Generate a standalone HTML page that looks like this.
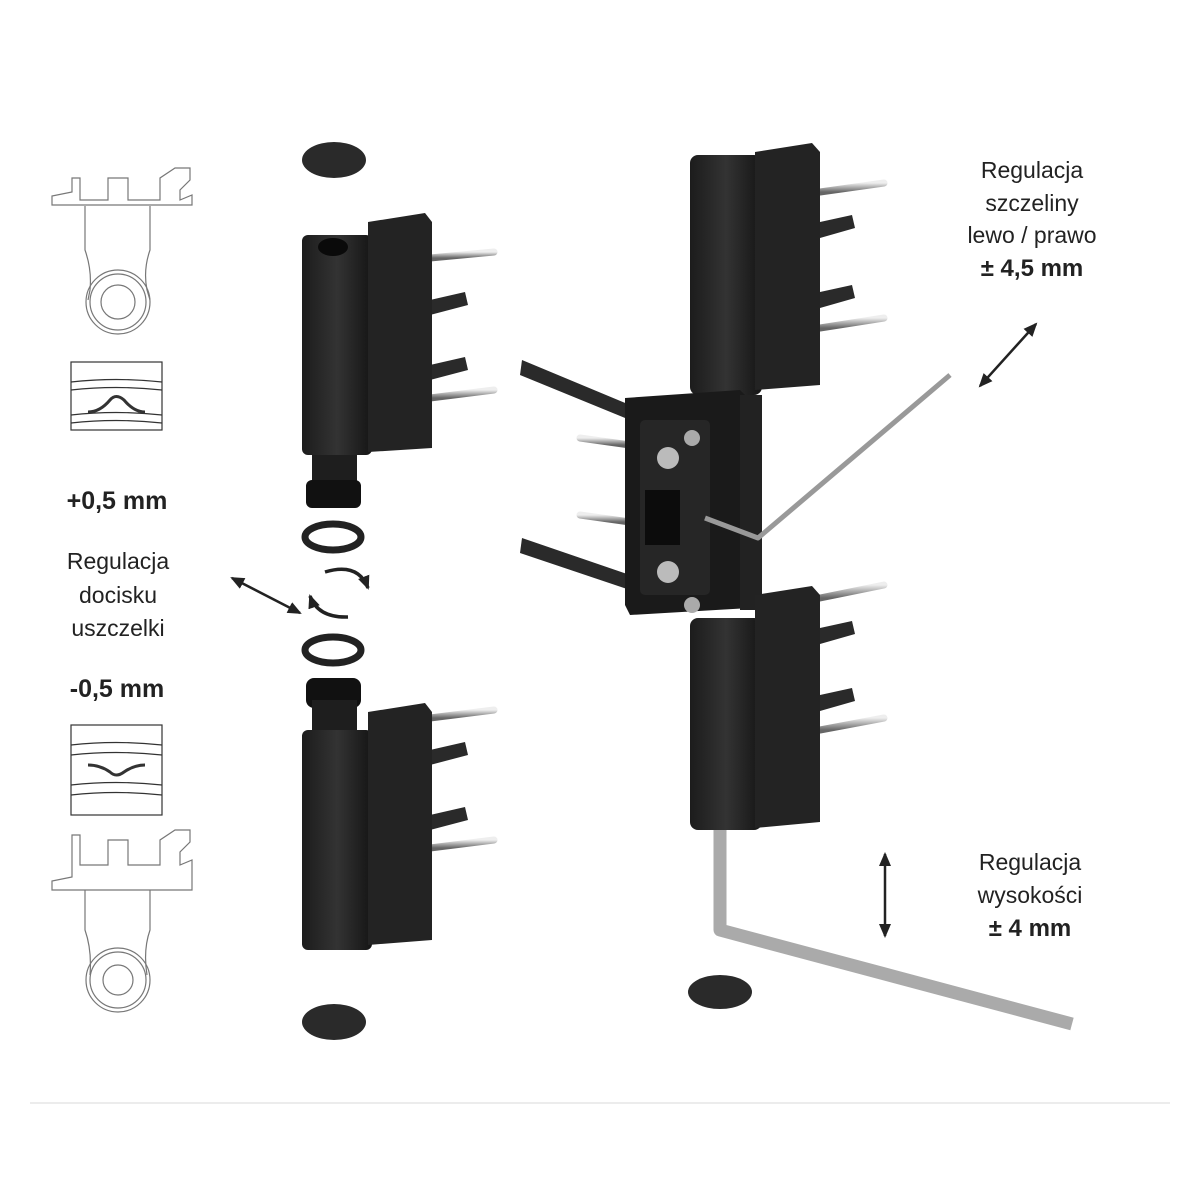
<!DOCTYPE html>
<html><head><meta charset="utf-8"><style>
html,body{margin:0;padding:0;background:#fff}
svg{display:block}
text{font-family:"Liberation Sans",sans-serif;fill:#222}
</style></head><body>
<svg width="1200" height="1200" viewBox="0 0 1200 1200" xmlns="http://www.w3.org/2000/svg">
<defs>
<linearGradient id="pin" x1="0" y1="0" x2="0" y2="1"><stop offset="0" stop-color="#eee"/><stop offset="0.5" stop-color="#aaa"/><stop offset="1" stop-color="#666"/></linearGradient>
<linearGradient id="blk" x1="0" y1="0" x2="1" y2="0"><stop offset="0" stop-color="#1c1c1c"/><stop offset="0.5" stop-color="#333"/><stop offset="1" stop-color="#151515"/></linearGradient>
<marker id="ah" markerUnits="userSpaceOnUse" markerWidth="14" markerHeight="12" refX="12" refY="6" orient="auto-start-reverse"><path d="M0,0 L14,6 L0,12 z" fill="#222"/></marker>
</defs>

<g fill="none" stroke="#777" stroke-width="1.2">
<path d="M52,205 L52,196 L72,192 L72,178 L80,178 L80,200 L108,200 L108,178 L128,178 L128,200 L160,200 L160,178 L175,168 L190,168 L190,180 L180,190 L180,200 L192,195 L192,205 Z"/>
<path d="M85,206 L85,250 Q92,270 90,290 L88,300 M150,206 L150,250 Q143,270 147,290 L150,300"/>
<circle cx="118" cy="302" r="32"/><circle cx="118" cy="302" r="28"/><circle cx="118" cy="302" r="17"/>
<path d="M52,910 L52,901 L72,897 L72,855 L80,855 L80,885 L108,885 L108,860 L128,860 L128,885 L160,885 L160,860 L175,850 L190,850 L190,862 L180,872 L180,885 L192,880 L192,910 Z" transform="translate(0,-20)"/>
<path d="M85,890 L85,930 Q92,950 90,975 M150,890 L150,930 Q143,950 147,975"/>
<circle cx="118" cy="980" r="32"/><circle cx="118" cy="980" r="28"/><circle cx="118" cy="980" r="15"/>
</g>
<g fill="none" stroke="#333" stroke-width="1.2">
<rect x="71" y="362" width="91" height="68"/>
<path d="M71,382 Q116,377 162,382 M71,390 Q116,385 162,390 M71,415 Q116,410 162,415 M71,423 Q116,418 162,423"/>
<path d="M88,412 Q100,412 110,400 Q116,393 124,400 Q134,412 145,412" stroke-width="3"/>
<rect x="71" y="725" width="91" height="90"/>
<path d="M71,745 Q116,740 162,745 M71,755 Q116,750 162,755 M71,785 Q116,780 162,785 M71,795 Q116,790 162,795"/>
<path d="M88,765 Q100,765 110,772 Q116,778 124,772 Q134,765 145,765" stroke-width="3"/>
</g>

<text x="117" y="509" font-size="25" font-weight="bold" text-anchor="middle">+0,5 mm</text>
<text x="118" y="569" font-size="23" text-anchor="middle">Regulacja</text>
<text x="118" y="603" font-size="23" text-anchor="middle">docisku</text>
<text x="118" y="636" font-size="23" text-anchor="middle">uszczelki</text>
<text x="117" y="697" font-size="25" font-weight="bold" text-anchor="middle">-0,5 mm</text>
<line x1="232" y1="578" x2="300" y2="613" stroke="#222" stroke-width="2.5" marker-start="url(#ah)" marker-end="url(#ah)"/>

<ellipse cx="334" cy="160" rx="32" ry="18" fill="#2a2a2a"/>
<g stroke="url(#pin)" stroke-width="7" stroke-linecap="round">
<line x1="430" y1="258" x2="494" y2="252"/><line x1="430" y1="398" x2="494" y2="390"/>
<line x1="430" y1="718" x2="494" y2="710"/><line x1="430" y1="848" x2="494" y2="840"/>
</g>
<g fill="#2a2a2a">
<path d="M430,300 L465,292 L468,305 L430,315Z"/><path d="M430,365 L465,357 L468,370 L430,380Z"/>
<path d="M430,750 L465,742 L468,755 L430,765Z"/><path d="M430,815 L465,807 L468,820 L430,830Z"/>
</g>
<rect x="302" y="235" width="70" height="220" rx="6" fill="url(#blk)"/>
<path d="M368,222 L425,213 L432,222 L432,448 L368,452Z" fill="#232323"/>
<ellipse cx="333" cy="247" rx="15" ry="9" fill="#0a0a0a"/>
<rect x="312" y="455" width="45" height="30" fill="#1e1e1e"/>
<rect x="306" y="480" width="55" height="28" rx="6" fill="#111"/>
<ellipse cx="333" cy="537" rx="28" ry="13" fill="none" stroke="#222" stroke-width="7"/>
<path d="M325,572 Q358,562 368,588" fill="none" stroke="#222" stroke-width="3.5" marker-end="url(#ah)"/>
<path d="M348,617 Q318,618 310,596" fill="none" stroke="#222" stroke-width="3.5" marker-end="url(#ah)"/>
<ellipse cx="333" cy="650" rx="28" ry="13" fill="none" stroke="#222" stroke-width="7"/>
<rect x="306" y="678" width="55" height="30" rx="8" fill="#111"/>
<rect x="312" y="700" width="45" height="35" fill="#1e1e1e"/>
<rect x="302" y="730" width="70" height="220" rx="6" fill="url(#blk)"/>
<path d="M368,712 L425,703 L432,712 L432,940 L368,945Z" fill="#232323"/>
<ellipse cx="334" cy="1022" rx="32" ry="18" fill="#2a2a2a"/>

<g stroke="url(#pin)" stroke-width="7" stroke-linecap="round">
<line x1="820" y1="192" x2="884" y2="183"/><line x1="820" y1="328" x2="884" y2="318"/>
<line x1="820" y1="598" x2="884" y2="585"/><line x1="820" y1="730" x2="884" y2="718"/>
<line x1="580" y1="438" x2="630" y2="445"/><line x1="580" y1="515" x2="630" y2="522"/>
</g>
<g fill="#2a2a2a">
<path d="M820,222 L852,215 L855,228 L820,238Z"/><path d="M820,292 L852,285 L855,298 L820,308Z"/>
<path d="M820,628 L852,621 L855,634 L820,644Z"/><path d="M820,695 L852,688 L855,701 L820,711Z"/>
<path d="M522,360 L630,405 L630,420 L520,375Z"/><path d="M522,538 L630,575 L630,590 L520,553Z"/>
</g>
<rect x="690" y="155" width="72" height="240" rx="8" fill="url(#blk)"/>
<path d="M755,152 L812,143 L820,152 L820,385 L755,390Z" fill="#232323"/>
<path d="M625,398 L740,390 L750,400 L750,608 L630,615 L625,605Z" fill="#1a1a1a"/>
<rect x="640" y="420" width="70" height="175" rx="5" fill="#262626"/>
<circle cx="668" cy="458" r="11" fill="#bbb"/><circle cx="668" cy="572" r="11" fill="#bbb"/>
<rect x="645" y="490" width="35" height="55" fill="#0c0c0c"/>
<circle cx="692" cy="438" r="8" fill="#aaa"/><circle cx="692" cy="605" r="8" fill="#aaa"/>
<rect x="740" y="395" width="22" height="215" fill="#222"/>
<rect x="690" y="618" width="72" height="212" rx="8" fill="url(#blk)"/>
<path d="M755,595 L812,586 L820,595 L820,822 L755,828Z" fill="#232323"/>
<polyline points="705,518 758,538 950,375" fill="none" stroke="#999" stroke-width="5" stroke-linejoin="round"/>
<polyline points="720,830 720,930 1072,1024" fill="none" stroke="#aaa" stroke-width="13" stroke-linejoin="round"/>
<ellipse cx="720" cy="992" rx="32" ry="17" fill="#2a2a2a"/>

<text x="1032" y="178" font-size="23" text-anchor="middle">Regulacja</text>
<text x="1032" y="211" font-size="23" text-anchor="middle">szczeliny</text>
<text x="1032" y="243" font-size="23" text-anchor="middle">lewo / prawo</text>
<text x="1032" y="276" font-size="24" font-weight="bold" text-anchor="middle">± 4,5 mm</text>
<line x1="980" y1="386" x2="1036" y2="324" stroke="#222" stroke-width="2.5" marker-start="url(#ah)" marker-end="url(#ah)"/>
<text x="1030" y="870" font-size="23" text-anchor="middle">Regulacja</text>
<text x="1030" y="903" font-size="23" text-anchor="middle">wysokości</text>
<text x="1030" y="936" font-size="24" font-weight="bold" text-anchor="middle">± 4 mm</text>
<line x1="885" y1="854" x2="885" y2="936" stroke="#222" stroke-width="2.5" marker-start="url(#ah)" marker-end="url(#ah)"/>

<line x1="30" y1="1103" x2="1170" y2="1103" stroke="#e6e6e6" stroke-width="1.5"/>
</svg>
</body></html>
